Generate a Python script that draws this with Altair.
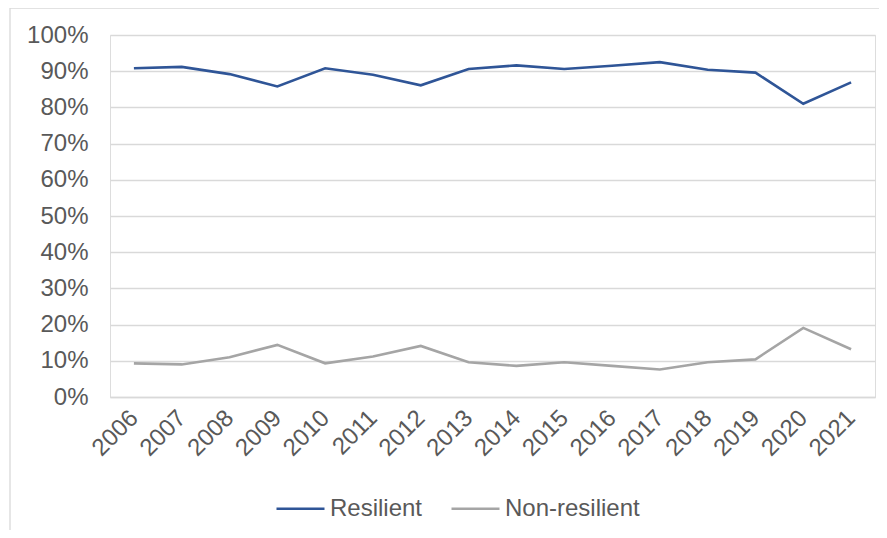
import altair as alt
import pandas as pd

years = [str(y) for y in range(2006, 2022)]
resilient = [0.908, 0.912, 0.892, 0.858, 0.908, 0.890, 0.861, 0.906,
             0.916, 0.906, 0.915, 0.925, 0.904, 0.896, 0.810, 0.869]
non_resilient = [0.093, 0.090, 0.110, 0.144, 0.093, 0.112, 0.141, 0.096,
                 0.086, 0.096, 0.086, 0.076, 0.096, 0.104, 0.191, 0.132]
series = ["Resilient", "Non-resilient"]
colors = ["#2F5597", "#A5A5A5"]

df = pd.concat([
    pd.DataFrame({"Year": years, "Value": resilient, "Series": series[0]}),
    pd.DataFrame({"Year": years, "Value": non_resilient, "Series": series[1]}),
])

FONT = "Liberation Sans"
TXT = "#595959"
FS = 24

lines = alt.Chart(df).mark_line(strokeWidth=2.6).encode(
    x=alt.X("Year:O", sort=years, title=None,
            scale=alt.Scale(type="point", padding=0.5),
            axis=alt.Axis(labelAngle=-45, labelAlign="right", labelBaseline="middle",
                          labelPadding=17, ticks=False, domain=True,
                          domainColor="#D9D9D9", domainWidth=1.3, grid=False,
                          labelFont=FONT, labelFontSize=FS, labelColor=TXT)),
    y=alt.Y("Value:Q", title=None,
            scale=alt.Scale(domain=[0, 1], nice=False),
            axis=alt.Axis(format=".0%", values=[i / 10 for i in range(11)],
                          ticks=False, domain=False, grid=True,
                          gridColor="#D9D9D9", gridWidth=1.3, labelPadding=22,
                          labelFont=FONT, labelFontSize=FS, labelColor=TXT)),
    color=alt.Color("Series:N", sort=series,
                    scale=alt.Scale(domain=series, range=colors),
                    legend=alt.Legend(title=None, orient="none", direction="horizontal",
                                      legendX=165, legendY=448,
                                      symbolType="stroke", symbolSize=2304,
                                      symbolStrokeWidth=2.6, columnPadding=23,
                                      labelOffset=4,
                                      labelFont=FONT, labelFontSize=FS, labelColor=TXT)),
)

frame = alt.Chart(pd.DataFrame({"a": [0]})).mark_rect(
    fill=None, stroke="#D9D9D9", strokeWidth=1.3
).encode(
    x=alt.value(-100), x2=alt.value(800),
    y=alt.value(-27), y2=alt.value(520),
)

chart = alt.layer(frame, lines).properties(
    width=765, height=362,
    padding={"left": 102, "top": 27, "right": 4, "bottom": 133},
    autosize=alt.AutoSizeParams(type="none"),
).configure_view(stroke=None).configure(background="white")

chart.save("out.html", embed_options={"renderer": "svg", "actions": False})
